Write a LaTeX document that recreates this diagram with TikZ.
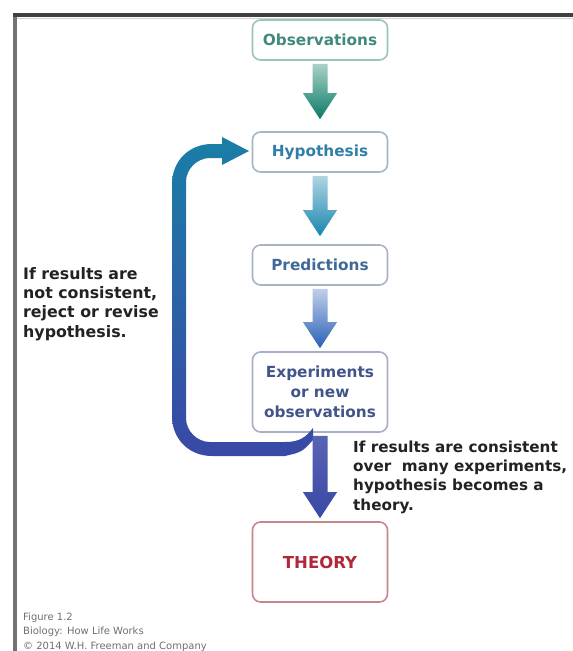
\documentclass[tikz,border=0pt]{standalone}
\usepackage{fontspec}
\setmainfont{DejaVu Sans}
\usetikzlibrary{calc}
\definecolor{obsB}{HTML}{9CC4BC}\definecolor{obsT}{HTML}{3F8A7C}
\definecolor{hypB}{HTML}{A4B8C4}\definecolor{hypT}{HTML}{2F7FA8}
\definecolor{preB}{HTML}{A8B4C4}\definecolor{preT}{HTML}{3F6A98}
\definecolor{expB}{HTML}{A8AEC8}\definecolor{expT}{HTML}{42558A}
\definecolor{thB}{HTML}{C8868C}\definecolor{thT}{HTML}{B0283A}
\definecolor{aGreen}{HTML}{0A7A66}
\definecolor{aTeal}{HTML}{1886AE}
\definecolor{aBlue}{HTML}{2A60B6}
\definecolor{aIndigo}{HTML}{3A48A6}
\definecolor{loopTop}{HTML}{1A7EA6}
\definecolor{annot}{HTML}{222222}
\definecolor{foot}{HTML}{707070}
\newcommand{\blockarrow}[5]{%
  \shade[top color=#3, middle color=#4, bottom color=#4]
   let \p1=(#1.south), \p2=(#2.north) in
   (\x1-7.5pt,\y1-3pt) -- (\x1-7.5pt,\y2+#5+26pt) -- (\x1-17pt,\y2+#5+26pt)
   -- (\x1,\y2+#5) -- (\x1+17pt,\y2+#5+26pt) -- (\x1+7.5pt,\y2+#5+26pt)
   -- (\x1+7.5pt,\y1-3pt) -- cycle;}
\begin{document}
\begin{tikzpicture}[x=1pt,y=-1pt,
  box/.style={draw, rounded corners=8pt, line width=1.6pt, minimum width=135pt,
    minimum height=40pt, align=center, inner sep=0pt,
    font=\bfseries\fontsize{15.3}{20}\selectfont},
  annotation/.style={align=left, inner sep=0pt, text=annot,
    font=\bfseries\fontsize{15.8}{19.3}\selectfont},
  footnote/.style={align=left, inner sep=0pt, text=foot,
    font=\fontsize{10}{14.5}\selectfont}]
\useasboundingbox (0,0) rectangle (573,651);
\fill[white] (0,0) rectangle (573,651);
% frame
\draw[line width=4pt, color=black!55] (15,13) -- (15,651);
\draw[line width=4pt, color=black!75] (13,15) -- (573,15);
\draw[line width=1.5pt, color=black!18] (17,18.5) -- (573,18.5);
% boxes
\node[box, draw=obsB, text=obsT] (obs) at (320,40) {Observations};
\node[box, draw=hypB, text=hypT] (hyp) at (320,152) {Hypothesis};
\node[box, draw=preB, text=preT] (pre) at (320,265) {Predictions};
\node[box, draw=expB, text=expT, minimum height=80pt] (exp) at (320,392) {Experiments\\or new\\observations};
\node[box, draw=thB, text=thT, minimum height=80pt, font=\bfseries\fontsize{16.5}{20}\selectfont] (th) at (320,562) {THEORY};
% loop back arrow
\shade[top color=loopTop, bottom color=aIndigo]
  (313,440) .. controls (302,452) .. (285,456) -- (212,456)
  .. controls (189,456) and (172,439) .. (172,416) -- (172,184)
  .. controls (172,161) and (189,144) .. (212,144) -- (222,144) -- (222,137)
  -- (249,151) -- (222,165) -- (222,158) -- (210,158)
  .. controls (197,158) and (186,169) .. (186,182) -- (186,418)
  .. controls (186,431) and (197,442) .. (210,442) -- (285,442)
  .. controls (300,442) and (306,437) .. (313,428) -- cycle;
% down arrows
\blockarrow{obs}{hyp}{aGreen!35}{aGreen}{12pt}
\blockarrow{hyp}{pre}{aTeal!35}{aTeal}{8pt}
\blockarrow{pre}{exp}{aBlue!30}{aBlue}{3pt}
\blockarrow{exp}{th}{aIndigo!85}{aIndigo}{3pt}
% annotations
\node[annotation, anchor=north west] (left) at (23,267)
  {If results are\\not consistent,\\reject or revise\\hypothesis.};
\node[annotation, anchor=north west, font=\bfseries\fontsize{15.2}{19.3}\selectfont] (right) at (353,440.5)
  {If results are consistent\\over\ \ many experiments,\\hypothesis becomes a\\theory.};
\node[footnote, anchor=north west] (fn) at (23,612.5)
  {Figure 1.2\\Biology: How Life Works\\\textcopyright\ 2014 W.H. Freeman and Company};
\end{tikzpicture}
\end{document}
